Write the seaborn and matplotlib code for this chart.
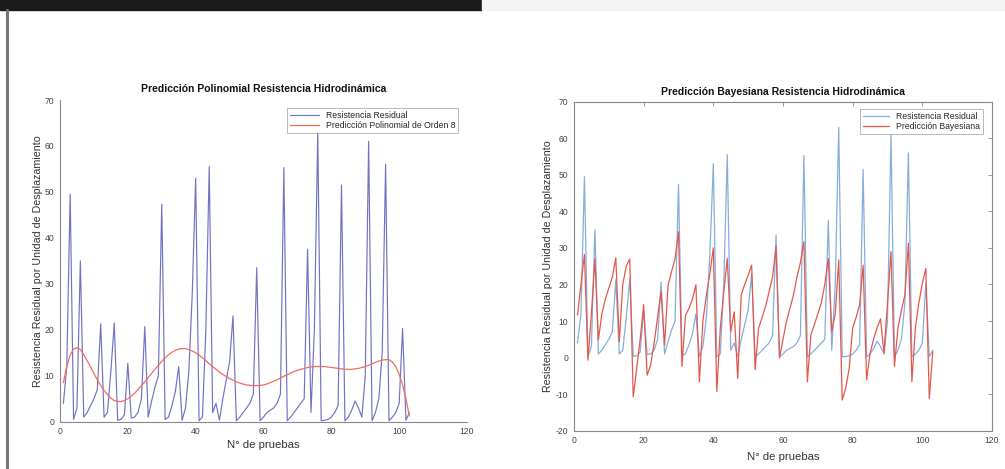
import numpy as np
import pandas as pd
import matplotlib
matplotlib.use("Agg")
import matplotlib.pyplot as plt
import seaborn as sns

# ---------------- data ----------------
pruebas = list(range(1, 104))

residual = [4, 12, 49.5, 0.5, 3, 35, 1, 2, 3.5, 5,
            7, 21.3, 1, 2, 11, 21.5, 0.3, 0.5, 1.5, 12.7,
            0.8, 1, 2, 5, 20.7, 1, 4.5, 7.5, 10, 47.3,
            0.5, 1, 3.5, 6.5, 12, 0.3, 3, 11, 28, 53,
            0.2, 1, 20, 55.5, 2, 4, 0.3, 5, 9, 13,
            23, 0.2, 1, 2, 3, 4, 6, 33.5, 0.2, 1,
            2, 2.5, 3, 4, 6, 55.3, 0.2, 1, 2, 3,
            4, 5, 37.5, 2, 20, 63, 0.2, 0.3, 0.5, 1,
            2, 3.5, 51.5, 0.2, 1, 2.5, 4.5, 3, 1, 10,
            61, 0.2, 2, 5, 15, 56, 0.2, 1, 2, 4,
            20.3, 0.3, 2]

pred_poly = [8.5, 12, 14.5, 15.8, 16.1, 15.7, 14.6, 13.3, 11.9, 10.5,
             9.1, 7.9, 6.8, 5.9, 5.1, 4.6, 4.4, 4.4, 4.6, 5.0,
             5.5, 6.2, 7.0, 7.8, 8.7, 9.6, 10.5, 11.4, 12.3, 13.1,
             13.9, 14.6, 15.1, 15.5, 15.8, 15.9, 15.9, 15.7, 15.4, 15.0,
             14.5, 13.9, 13.3, 12.6, 12.0, 11.4, 10.8, 10.3, 9.8, 9.4,
             9.0, 8.7, 8.4, 8.2, 8.0, 7.9, 7.85, 7.85, 7.9, 8.0,
             8.2, 8.5, 8.8, 9.1, 9.5, 9.9, 10.2, 10.6, 10.9, 11.2,
             11.4, 11.6, 11.8, 11.9, 12.0, 12.0, 12.0, 12.0, 11.9, 11.8,
             11.7, 11.6, 11.5, 11.4, 11.4, 11.4, 11.5, 11.6, 11.8, 12.0,
             12.3, 12.6, 12.9, 13.2, 13.4, 13.5, 13.5, 13.0, 12.0, 10.3,
             8.0, 5.0, 1.2]

pred_bayes = [11.6, 20, 28.2, -0.7, 12, 27, 4.8, 12, 16, 19,
              22, 27.3, 4.3, 20, 25, 27, -10.7, -3, 5, 14.5,
              -4.8, -2, 4, 11, 18, 3.4, 19.8, 23.5, 27, 34.4,
              -2.4, 11.6, 13.4, 16, 19.9, -6.6, 10, 17, 23, 30,
              -9.3, 8, 18, 27.1, 7.1, 12.5, -5.7, 17.1, 20, 22.5,
              25.3, -3.3, 8.1, 11, 14, 18, 22, 30.4, -0.1, 5,
              9.9, 13.5, 17.1, 22, 26, 31.7, -6.6, 6.2, 9, 12,
              15, 20, 27.1, 7.1, 12, 26.7, -11.6, -8.4, -3, 8.1,
              11, 14.5, 25.3, -6.1, 1.2, 5, 8.1, 10.6, 1.2, 15,
              29, -2.4, 8.1, 13, 17.1, 31.3, -6.6, 8.1, 15, 20.3,
              24.4, -11.2, 1.6]

x_ticks = [0, 20, 40, 60, 80, 100, 120]
y_ticks_left = [0, 10, 20, 30, 40, 50, 60, 70]
y_ticks_right = [-20, -10, 0, 10, 20, 30, 40, 50, 60, 70]

title_left = "Predicción Polinomial Resistencia Hidrodinámica"
title_right = "Predicción Bayesiana Resistencia Hidrodinámica"
ylabel = "Resistencia Residual por Unidad de Desplazamiento"
xlabel = "N° de pruebas"

df = pd.DataFrame({"x": pruebas, "res": residual, "poly": pred_poly, "bayes": pred_bayes})

# ---------------- style ----------------
sns.set_theme(style="white")
plt.rcParams["font.family"] = ["Liberation Sans", "DejaVu Sans"]
plt.rcParams["axes.unicode_minus"] = False

fig = plt.figure(figsize=(10.05, 4.69), dpi=100)
fig.patch.set_facecolor("white")

# decorative page edges
fig.patches.append(matplotlib.patches.Rectangle((0, 1 - 10 / 469), 482 / 1005, 10 / 469,
                                                transform=fig.transFigure, color="#1a1a1a", zorder=0))
fig.patches.append(matplotlib.patches.Rectangle((482 / 1005, 1 - 10 / 469), 1 - 482 / 1005, 10 / 469,
                                                transform=fig.transFigure, color="#f1f3f5", zorder=0))
fig.lines.append(matplotlib.lines.Line2D([6.5 / 1005, 6.5 / 1005], [0, 1 - 10 / 469],
                                         transform=fig.transFigure, color="#777777", lw=2.2))

axc = "#888888"
tickc = "#444444"
TITLE_FS = 7.5
LABEL_FS = 7.7
XLABEL_FS = 8.2
TICK_FS = 6.2
LEG_FS = 6.2

# ---------------- left ----------------
ax1 = fig.add_axes([60 / 1005, (469 - 421.7) / 469, 407 / 1005, 321.7 / 469])
sns.lineplot(data=df, x="x", y="res", ax=ax1, color="#7272c4", lw=0.85, label="Resistencia Residual")
sns.lineplot(data=df, x="x", y="poly", ax=ax1, color="#ec6e62", lw=0.9, label="Predicción Polinomial de Orden 8")
ax1.set_xlim(0, 120)
ax1.set_ylim(0, 70)
ax1.set_xticks(x_ticks)
ax1.set_yticks(y_ticks_left)
for s in ["top", "right"]:
    ax1.spines[s].set_visible(False)
for s in ["left", "bottom"]:
    ax1.spines[s].set_color(axc)
    ax1.spines[s].set_linewidth(0.8)
ax1.tick_params(direction="in", length=3, width=0.6, color=axc, labelsize=TICK_FS, labelcolor=tickc, pad=4)
ax1.set_title(title_left, fontsize=TITLE_FS, fontweight="bold", pad=6, color="#111111")
ax1.set_xlabel(xlabel, fontsize=XLABEL_FS, color="#333333", labelpad=3)
ax1.set_ylabel(ylabel, fontsize=LABEL_FS, color="#333333", labelpad=1)
leg1 = ax1.legend(loc="upper right", bbox_to_anchor=(0.978, 0.975), borderaxespad=0, fontsize=LEG_FS,
                  handlelength=3.3, frameon=True, fancybox=False, edgecolor="#999999",
                  borderpad=0.35, labelspacing=0.15)
leg1.get_frame().set_linewidth(0.6)

# ---------------- right ----------------
ax2 = fig.add_axes([574 / 1005, (469 - 430.7) / 469, 418 / 1005, 329 / 469])
sns.lineplot(data=df, x="x", y="res", ax=ax2, color="#86aedb", lw=0.9, label="Resistencia Residual")
sns.lineplot(data=df, x="x", y="bayes", ax=ax2, color="#e3584c", lw=0.9, label="Predicción Bayesiana")
ax2.set_xlim(0, 120)
ax2.set_ylim(-20, 70)
ax2.set_xticks(x_ticks)
ax2.set_yticks(y_ticks_right)
for s in ["top", "right", "left", "bottom"]:
    ax2.spines[s].set_visible(True)
    ax2.spines[s].set_color(axc)
    ax2.spines[s].set_linewidth(0.8)
ax2.tick_params(direction="in", length=3, width=0.6, color=axc, labelsize=TICK_FS, labelcolor=tickc, pad=4,
                top=True, right=True)
ax2.set_title(title_right, fontsize=TITLE_FS, fontweight="bold", pad=5, color="#111111")
ax2.set_xlabel(xlabel, fontsize=XLABEL_FS, color="#333333", labelpad=4.5)
ax2.set_ylabel(ylabel, fontsize=LABEL_FS, color="#333333", labelpad=2)
leg2 = ax2.legend(loc="upper right", bbox_to_anchor=(0.978, 0.978), borderaxespad=0, fontsize=LEG_FS,
                  handlelength=3.0, frameon=True, fancybox=False, edgecolor="#999999",
                  borderpad=0.35, labelspacing=0.15)
leg2.get_frame().set_linewidth(0.6)

fig.savefig("out.png", dpi=100, facecolor="white")
